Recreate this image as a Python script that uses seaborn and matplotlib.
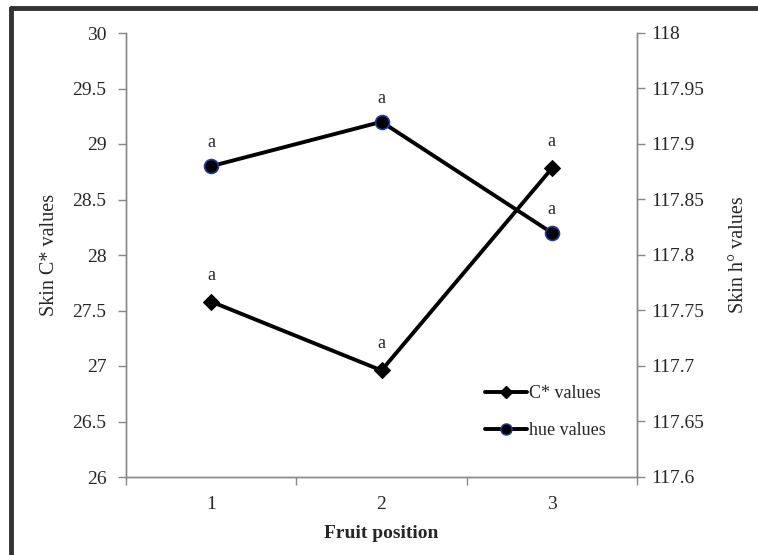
import matplotlib
matplotlib.use("Agg")
import matplotlib.pyplot as plt
import seaborn as sns
import pandas as pd
from matplotlib.lines import Line2D
from matplotlib.ticker import FixedLocator

# fruit position vs skin colour values
positions = [1, 2, 3]
cstar_values = [27.58, 26.96, 28.78]
hue_values = [117.88, 117.92, 117.82]
cstar_letters = ["a", "a", "a"]
hue_letters = ["a", "a", "a"]
left_ticks = [26, 26.5, 27, 27.5, 28, 28.5, 29, 29.5, 30]
left_tick_labels = ["26", "26.5", "27", "27.5", "28", "28.5", "29", "29.5", "30"]
right_ticks = [117.6, 117.65, 117.7, 117.75, 117.8, 117.85, 117.9, 117.95, 118]
right_tick_labels = ["117.6", "117.65", "117.7", "117.75", "117.8", "117.85", "117.9", "117.95", "118"]

df = pd.DataFrame({"pos": positions, "cstar": cstar_values, "hue": hue_values})

sns.set_style("white")
plt.rcParams["font.family"] = ["Liberation Serif", "DejaVu Serif"]

fig = plt.figure(figsize=(7.58, 5.55), dpi=100)
ax = fig.add_axes([126 / 758, 1 - 477 / 555, 511 / 758, 444 / 555])
ax2 = ax.twinx()

sns.lineplot(data=df, x="pos", y="cstar", ax=ax, color="black", lw=2.8,
             marker="D", markersize=8, markeredgecolor="black", label="C* values", legend=False)
sns.lineplot(data=df, x="pos", y="hue", ax=ax2, color="black", lw=2.8,
             marker="o", markersize=10, markeredgecolor="#2a3a9a", markeredgewidth=1.2,
             label="hue values", legend=False)

for x, y, t in zip(positions, cstar_values, cstar_letters):
    ax.annotate(t, (x, y), xytext=(0, 13), textcoords="offset points",
                ha="center", va="bottom", fontsize=13)
for x, y, t in zip(positions, hue_values, hue_letters):
    ax2.annotate(t, (x, y), xytext=(0, 11), textcoords="offset points",
                 ha="center", va="bottom", fontsize=13)

ax.set_xlim(0.5, 3.5)
ax.set_ylim(26, 30)
ax2.set_ylim(117.6, 118)
ax.set_xticks(positions)
ax.set_xticklabels([str(p) for p in positions], fontsize=14)
ax.xaxis.set_minor_locator(FixedLocator([0.5, 1.5, 2.5, 3.5]))
ax.tick_params(axis="x", which="major", length=0, pad=14)
ax.tick_params(axis="x", which="minor", length=6, color="#888888", width=1, bottom=True)
ax.set_yticks(left_ticks)
ax.set_yticklabels(left_tick_labels, fontsize=14)
ax.tick_params(axis="y", length=6, color="#888888", width=1, left=True, pad=8)
ax2.set_yticks(right_ticks)
ax2.set_yticklabels(right_tick_labels, fontsize=14)
ax2.tick_params(axis="y", length=6, color="#888888", width=1, right=True, pad=4)

for a in (ax, ax2):
    a.spines["top"].set_visible(False)
    for s in ("left", "right", "bottom"):
        a.spines[s].set_color("#888888")
        a.spines[s].set_linewidth(1)

ax.set_xlabel("Fruit position", fontsize=14, fontweight="bold", labelpad=8)
ax.set_ylabel("Skin C* values", fontsize=14.5, labelpad=10)
ax2.set_ylabel("Skin h\u00b0 values", fontsize=14.5, labelpad=18)

handles = [
    Line2D([], [], color="black", lw=2.8, marker="D", markersize=6),
    Line2D([], [], color="black", lw=2.8, marker="o", markersize=8, markeredgecolor="#2a3a9a"),
]
ax2.legend(handles, ["C* values", "hue values"], loc="upper left",
           bbox_to_anchor=((478 - 126) / 511, (477 - 378) / 444), frameon=False,
           fontsize=13, handlelength=2.3, handletextpad=0.1, labelspacing=1.1,
           borderaxespad=0)

# outer chart border (only top and left visible in the crop)
fig.add_artist(Line2D([11 / 758, 11 / 758], [0, 1 - 8 / 555], color="#333333", lw=3.5))
fig.add_artist(Line2D([11 / 758, 1], [1 - 8 / 555, 1 - 8 / 555], color="#333333", lw=3.5))

fig.savefig("out.png", dpi=100)
